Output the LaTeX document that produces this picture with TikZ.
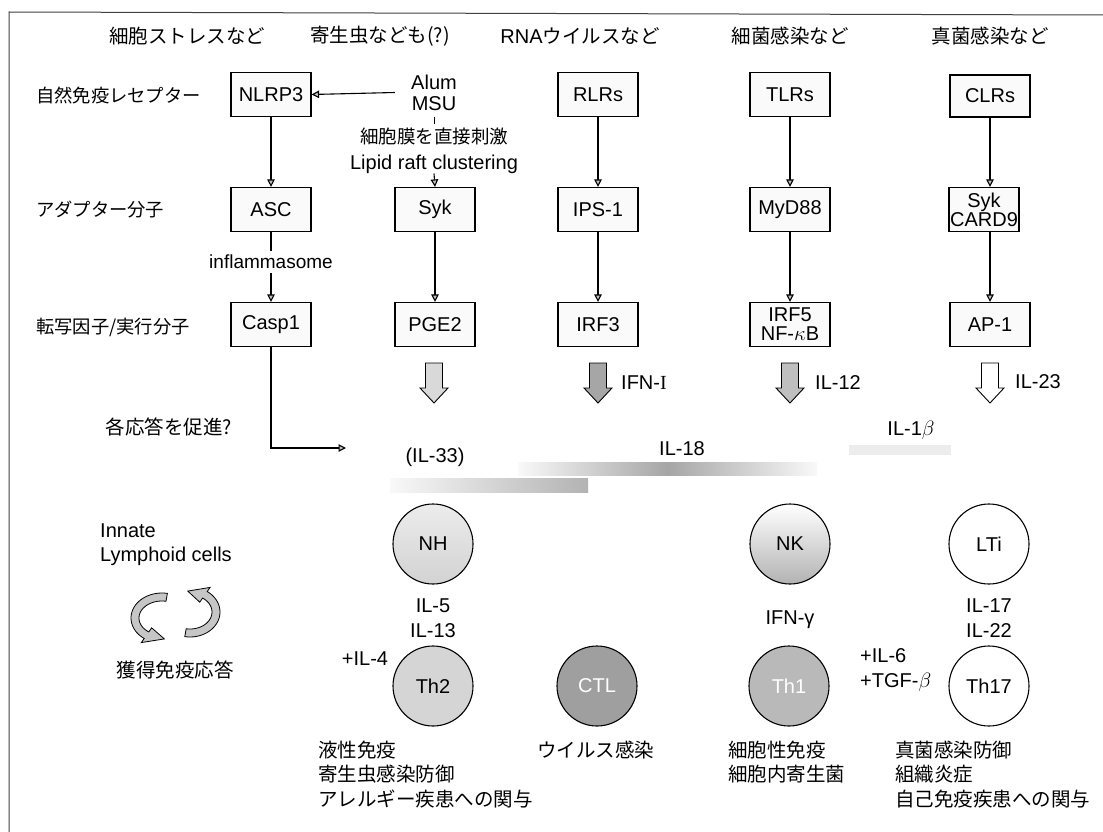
\documentclass[tikz,border=0pt]{standalone}
\usepackage{fontspec}
\setmainfont{Liberation Sans}
\newfontfamily\jp{Noto Sans CJK JP}
\newfontfamily\serifI{Liberation Serif}
\usetikzlibrary{arrows.meta,calc}
\newcommand\latf{\normalfont\fontsize{20}{20}\selectfont}
\newcommand\jpf{\jp\fontsize{19.5}{24.5}\selectfont}
\newcommand\fatarrow[3]{%
  \draw[line width=0.9pt, fill=#3] ({#1-8.5},#2) -- ({#1+8.5},#2) -- ({#1+8.5},{#2+25}) -- ({#1+14},{#2+25}) -- (#1,{#2+40}) -- ({#1-14},{#2+25}) -- ({#1-8.5},{#2+25}) -- cycle;}
\tikzset{
  box/.style={draw, line width=1.2pt, fill=gray!4, minimum width=80pt, minimum height=44pt, inner sep=1pt, font=\latf, align=center},
  cell/.style={circle, draw, line width=1.1pt, minimum size=80pt, inner sep=0pt, font=\latf},
  jlab/.style={inner sep=0pt, font=\jpf},
  rowlab/.style={inner sep=0pt, font=\jp\fontsize{18.3}{20}\selectfont},
  llab/.style={inner sep=0pt, font=\latf},
  arr/.style={line width=1.1pt, -{Triangle[width=7.5pt,length=7.5pt,fill=gray!50]}},
  ribbon/.style={fill=gray!45, line width=0.8pt, draw=black},
}
\begin{document}
\begin{tikzpicture}[x=1pt,y=-1pt]
\useasboundingbox (0,0) rectangle (1103,832);
\fill[white] (0,0) rectangle (1103,832);
% frame
\draw[line width=1pt, black!75] (1103,15) -- (9,12) -- (9,832);

% headers
\node[jlab] (h1) at (187,36) {細胞ストレスなど};
\node[jlab] (h2) at (380,36) {寄生虫なども(?)};
\node[jlab] (h3) at (580,36) {{\latf RNA}ウイルスなど};
\node[jlab] (h4) at (790,36) {細菌感染など};
\node[jlab] (h5) at (990,36) {真菌感染など};

% row labels
\node[rowlab, anchor=west] (r1) at (36,95) {自然免疫レセプター};
\node[rowlab, anchor=west] (r2) at (36,210) {アダプター分子};
\node[rowlab, anchor=west] (r3) at (36,327) {転写因子/実行分子};

% boxes
\node[box] (nlrp3) at (271,94.5) {NLRP3};
\node[box] (asc) at (271,209.5) {ASC};
\node[box] (casp) at (271,324.5) {Casp1};
\node[box] (syk) at (435,209.5) {Syk};
\node[box] (pge2) at (435,324.5) {PGE2};
\node[box] (rlr) at (598,94.5) {RLRs};
\node[box] (ips) at (598,209.5) {IPS-1};
\node[box] (irf3) at (598,324.5) {IRF3};
\node[box] (tlr) at (790,94.5) {TLRs};
\node[box] (myd) at (790,209.5) {MyD88};
\node[box, font=\normalfont\fontsize{20}{19}\selectfont] (irf5) at (790,324.5) {IRF5\\NF-$\kappa$B};
\node[box, minimum height=42pt] (clr) at (990,96) {CLRs};
\node[box, minimum width=70pt, font=\normalfont\fontsize{20}{19}\selectfont] (sykc) at (984,209.5) {Syk\\CARD9};
\node[box] (ap1) at (990,324.5) {AP-1};

% stimuli
\node[llab, align=center, minimum width=78pt, font=\normalfont\fontsize{20}{21}\selectfont] (alum) at (434,92.5) {Alum\\MSU};
\node[jlab, font=\jp\fontsize{18.5}{20}\selectfont] (memb) at (434,136) {細胞膜を直接刺激};
\node[llab] (lipid) at (434,164) {Lipid raft clustering};
\draw[line width=1pt] ([yshift=-6pt]alum.south) -- ++(0,7);

% connectors
\draw[arr] (alum.west) -- (nlrp3.east);
\draw[arr] (lipid.south) -- (syk.north);
\draw[arr] (nlrp3) -- (asc);
\node[llab, inner ysep=4pt, font=\normalfont\fontsize{19}{20}\selectfont] (infl) at (271,262) {inflammasome};
\draw[line width=1.1pt] (asc) -- (infl);
\draw[arr] (infl) -- (casp);
\draw[arr] (syk) -- (pge2);
\draw[arr] (rlr) -- (ips);
\draw[arr] (ips) -- (irf3);
\draw[arr] (tlr) -- (myd);
\draw[arr] (myd) -- (irf5);
\draw[arr] (clr.south) -- (clr.south |- sykc.north);
\draw[arr] (sykc.south -| ap1.north) -- (ap1.north);
\coordinate (promote) at (346,448);
\draw[arr] (casp.south) |- (promote);
\node[jlab] (prom) at (169,427) {各応答を促進?};

% fat arrows
\fatarrow{434}{363}{gray!30}
\fatarrow{598}{363}{gray!70}
\fatarrow{790}{363}{gray!50}
\fatarrow{990}{363}{white}
\node[llab, anchor=west] (ifn) at (621,383) {IFN-{\serifI I}};
\node[llab, anchor=west] (il12) at (815,383) {IL-12};
\node[llab, anchor=west] (il23) at (1015,382) {IL-23};

% cytokine bars
\shade[left color=gray!5, right color=gray!60] (390,478) rectangle (588,492);
\shade[left color=gray!5, right color=gray!5, middle color=gray!70] (518,462) rectangle (817,475);
\fill[gray!15] (849,445) rectangle (951,455);
\node[llab] (il33) at (435,457) {(IL-33)};
\node[llab] (il18) at (682,449) {IL-18};
\node[llab] (il1b) at (911,430) {IL-1$\beta$};

% cells
\node[cell, top color=gray!15, bottom color=gray!35] (nh) at (433,544) {NH};
\node[cell, fill=gray!33] (th2) at (433,686) {Th2};
\node[cell, top color=white, bottom color=gray!60] (nk) at (790,544) {NK};
\node[cell, fill=white] (lti) at (989,544) {LTi};
\node[cell, fill=gray!75, text=white] (ctl) at (597,686) {CTL};
\node[cell, fill=gray!55, text=white] (th1) at (789,686) {Th1};
\node[cell, fill=white] (th17) at (989,686) {Th17};

\node[llab, align=center, font=\normalfont\fontsize{20}{25}\selectfont] (il513) at (433,618.5) {IL-5\\IL-13};
\node[llab] (il4) at (365,659) {+IL-4};
\node[llab] (ifng) at (790,620) {IFN-γ};
\node[llab, align=center, font=\normalfont\fontsize{20}{25}\selectfont] (il1722) at (989,618.5) {IL-17\\IL-22};
\node[llab, anchor=west, align=left, font=\normalfont\fontsize{20}{25}\selectfont] (il6) at (860,670.5) {+IL-6\\+TGF-$\beta$};

% innate lymphoid cells
\node[llab, anchor=west, align=left, font=\normalfont\fontsize{20}{24}\selectfont] (ilc) at (100,545) {Innate\\Lymphoid cells};
\filldraw[ribbon] plot[domain=80:235, samples=30] ({162+31*cos(\x)},{618-25*sin(\x)})
  -- ({162+36*cos(235)},{618-30*sin(235)})
  -- ({162+27*cos(275)},{618-21*sin(275)})
  -- ({162+18*cos(235)},{618-12*sin(235)})
  -- plot[domain=235:80, samples=30] ({162+23*cos(\x)},{618-17*sin(\x)}) -- cycle;
\filldraw[ribbon] plot[domain=-100:55, samples=30] ({190+30*cos(\x)},{612-25*sin(\x)})
  -- ({190+35*cos(55)},{612-30*sin(55)})
  -- ({190+26*cos(95)},{612-21*sin(95)})
  -- ({190+17*cos(55)},{612-12*sin(55)})
  -- plot[domain=55:-100, samples=30] ({190+22*cos(\x)},{612-17*sin(\x)}) -- cycle;
\node[jlab] (acq) at (175,670) {獲得免疫応答};

% outcome texts
\node[jlab, anchor=west, align=left] (o1) at (318,774.5) {液性免疫\\寄生虫感染防御\\アレルギー疾患への関与};
\node[jlab, anchor=west] (o2) at (537,750) {ウイルス感染};
\node[jlab, anchor=west, align=left] (o3) at (728,762) {細胞性免疫\\細胞内寄生菌};
\node[jlab, anchor=west, align=left] (o4) at (895,774.5) {真菌感染防御\\組織炎症\\自己免疫疾患への関与};
\end{tikzpicture}
\end{document}
